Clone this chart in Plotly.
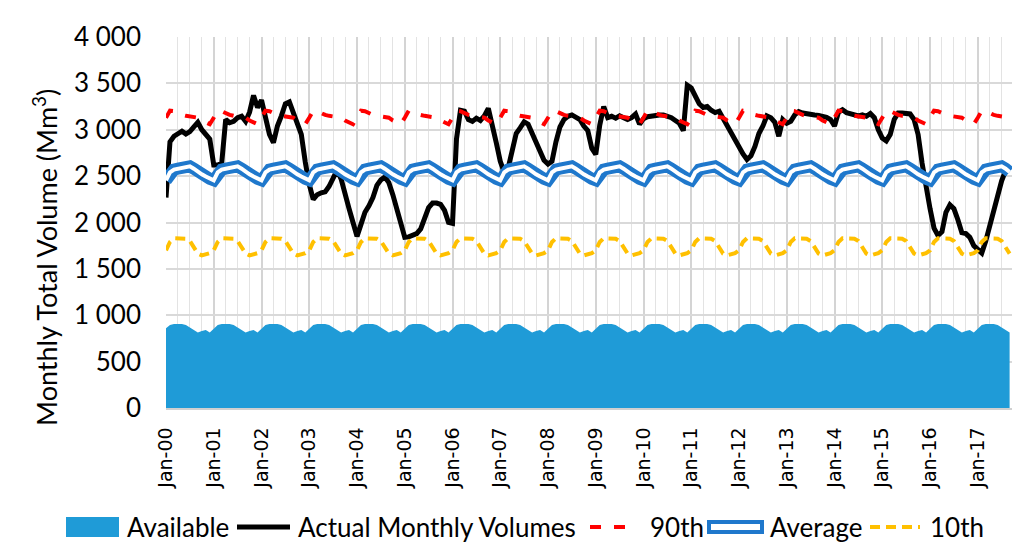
import plotly.graph_objects as go

# ---------------- data ----------------
n_months = 213  # Jan-00 .. Sep-17

actual_monthly = [
    2270, 2870, 2930, 2960, 2985, 2955, 2980, 3030, 3080, 3000, 2950, 2900,
    2620, 2620, 2640, 3110, 3075, 3090, 3130, 3145, 3090, 3190, 3370, 3240,
    3320, 3160, 2950, 2860, 3040, 3150, 3280, 3300, 3180, 3100, 2950, 2650,
    2410, 2250, 2300, 2320, 2330, 2390, 2480, 2565, 2470, 2330, 2150, 2000,
    1850, 1980, 2110, 2180, 2270, 2400, 2460, 2490, 2430, 2300, 2160, 2000,
    1840, 1845, 1860, 1880, 1930, 2040, 2160, 2210, 2210, 2195, 2130, 2000,
    1990, 2900, 3210, 3200, 3110, 3090, 3125, 3100, 3150, 3230, 3070, 2860,
    2660, 2540, 2590, 2790, 2960, 3020, 3085, 3060, 2970, 2850, 2760, 2670,
    2630, 2660, 2870, 3030, 3110, 3145, 3160, 3135, 3110, 3040, 2990, 2800,
    2735, 3050, 3250, 3130, 3145, 3125, 3150, 3130, 3110, 3130, 3170, 3060,
    3120, 3140, 3150, 3160, 3160, 3160, 3145, 3130, 3100, 3070, 2990, 3480,
    3450, 3350, 3280, 3240, 3250, 3210, 3185, 3200, 3120, 3060, 2980, 2880,
    2810, 2740, 2680, 2720, 2820, 2960, 3040, 3150, 3130, 3080, 2930, 3110,
    3070, 3090, 3160, 3195, 3180, 3170, 3160, 3160, 3155, 3145, 3135, 3110,
    3040, 3190, 3215, 3185, 3170, 3165, 3150, 3160, 3145, 3175, 3130, 3000,
    2910, 2880, 2950, 3110, 3180, 3180, 3180, 3170, 3110, 2950, 2640, 2350,
    2150, 1940, 1860, 1900, 2110, 2190, 2150, 2030, 1890, 1880, 1840, 1750,
    1700, 1670, 1800, 1970, 2130, 2300, 2450, 2560, 2600,
]

# calendar-month statistics (Jan..Dec), repeated every year
p90_by_month = [3130, 3205, 3200, 3175, 3160, 3150, 3145, 3140, 3130, 3100, 3080, 3060]
avg_by_month = [2455, 2540, 2570, 2580, 2590, 2600, 2605, 2580, 2545, 2520, 2495, 2470]
p10_by_month = [1700, 1790, 1830, 1830, 1830, 1825, 1800, 1730, 1665, 1645, 1660, 1670]
available_by_month = [860, 895, 906, 906, 905, 896, 870, 840, 813, 830, 842, 815]

year_ticks = [f"Jan-{y % 100:02d}" for y in range(2000, 2018)]
series_names = ["Available", "Actual Monthly Volumes", "90th", "Average", "10th"]

# ---------------- build ----------------
months = list(range(n_months))
p90 = [p90_by_month[m % 12] for m in months]
avg = [avg_by_month[m % 12] for m in months]
p10 = [p10_by_month[m % 12] for m in months]
available = [available_by_month[m % 12] for m in months]

C_AVAIL, C_ACT, C_P90, C_AVG, C_P10 = "#1F9BD7", "#000000", "#FF0000", "#1F78CC", "#FFC000"
FONT_TXT = "Lato, Liberation Sans, Arial, sans-serif"
D90, D10 = "11px,13px", "10px,6px"

fig = go.Figure()
fig.add_trace(go.Scatter(x=months, y=available, name=series_names[0], mode="lines",
                         line=dict(color=C_AVAIL, width=0), fill="tozeroy",
                         fillcolor=C_AVAIL))
fig.add_trace(go.Scatter(x=months, y=actual_monthly, name=series_names[1],
                         mode="lines", line=dict(color=C_ACT, width=5)))
fig.add_trace(go.Scatter(x=months, y=p90, name=series_names[2], mode="lines",
                         line=dict(color=C_P90, width=4, dash=D90)))
fig.add_trace(go.Scatter(x=months, y=avg, name=series_names[3], mode="lines",
                         line=dict(color=C_AVG, width=12)))
fig.add_trace(go.Scatter(x=months, y=avg, name=series_names[3], mode="lines",
                         hoverinfo="skip", line=dict(color="#FFFFFF", width=4)))
fig.add_trace(go.Scatter(x=months, y=p10, name=series_names[4], mode="lines",
                         line=dict(color=C_P10, width=4, dash=D10)))

W, H = 1021, 556
L, R, T, B = 166, 9, 37, 148
pw, ph = W - L - R, H - T - B


def px_x(px):
    return (px - L) / pw


def px_y(py):
    return (H - B - py) / ph


# legend drawn as shapes + text (double-line symbol for Average)
LEG_Y = 527
shapes = [
    dict(type="rect", xref="paper", yref="paper", x0=px_x(66), x1=px_x(119),
         y0=px_y(537), y1=px_y(517), fillcolor=C_AVAIL, line=dict(width=0)),
    dict(type="line", xref="paper", yref="paper", x0=px_x(237), x1=px_x(290),
         y0=px_y(LEG_Y), y1=px_y(LEG_Y), line=dict(color=C_ACT, width=5)),
    dict(type="line", xref="paper", yref="paper", x0=px_x(590), x1=px_x(637),
         y0=px_y(LEG_Y), y1=px_y(LEG_Y), line=dict(color=C_P90, width=4, dash=D90)),
    dict(type="rect", xref="paper", yref="paper", x0=px_x(709), x1=px_x(762),
         y0=px_y(532), y1=px_y(522), fillcolor="#FFFFFF", line=dict(color=C_AVG, width=4)),
    dict(type="line", xref="paper", yref="paper", x0=px_x(870), x1=px_x(920),
         y0=px_y(LEG_Y), y1=px_y(LEG_Y), line=dict(color=C_P10, width=4, dash=D10)),
]
leg_text_x = [125, 296, 648, 768, 928]
annotations = [
    dict(text=name, xref="paper", yref="paper", x=px_x(tx), y=px_y(LEG_Y),
         xanchor="left", yanchor="middle", showarrow=False,
         font=dict(family=FONT_TXT, size=26, color="#000000"))
    for name, tx in zip(series_names, leg_text_x)
]
annotations.append(
    dict(text="Monthly Total Volume (Mm<sup>3</sup>)", xref="paper", yref="paper",
         x=px_x(45), y=px_y(257), xanchor="center", yanchor="middle",
         textangle=-90, showarrow=False,
         font=dict(family=FONT_TXT, size=27, color="#000000")))

fig.update_layout(
    width=W, height=H,
    margin=dict(l=L, r=R, t=T, b=B),
    paper_bgcolor="white", plot_bgcolor="white",
    separators=". ",
    showlegend=False,
    shapes=shapes,
    annotations=annotations,
    xaxis=dict(range=[0, 212.6], tickmode="array",
               tickvals=[12 * i for i in range(len(year_ticks))],
               ticktext=year_ticks, tickangle=-90,
               tickfont=dict(family="DejaVu Sans", size=19, color="#000000"),
               ticklabelstandoff=10,
               showgrid=True, gridcolor="#D4D4D4", gridwidth=1.5,
               minor=dict(dtick=3, tick0=0, showgrid=True, gridcolor="#E3E3E3", gridwidth=1.2),
               showline=True, linecolor="#D0D0D0", linewidth=1.5,
               ticks="", zeroline=False, fixedrange=True),
    yaxis=dict(range=[0, 4000], dtick=500, tickformat=",",
               tickfont=dict(family=FONT_TXT, size=26, color="#000000"),
               showgrid=True, gridcolor="#D9D9D9", gridwidth=1.5,
               zeroline=False, showline=False, ticks="",
               ticklabelstandoff=24, fixedrange=True),
)

fig.write_html("out.html", config={"displayModeBar": False},
               post_script="document.body.style.margin='0';")
